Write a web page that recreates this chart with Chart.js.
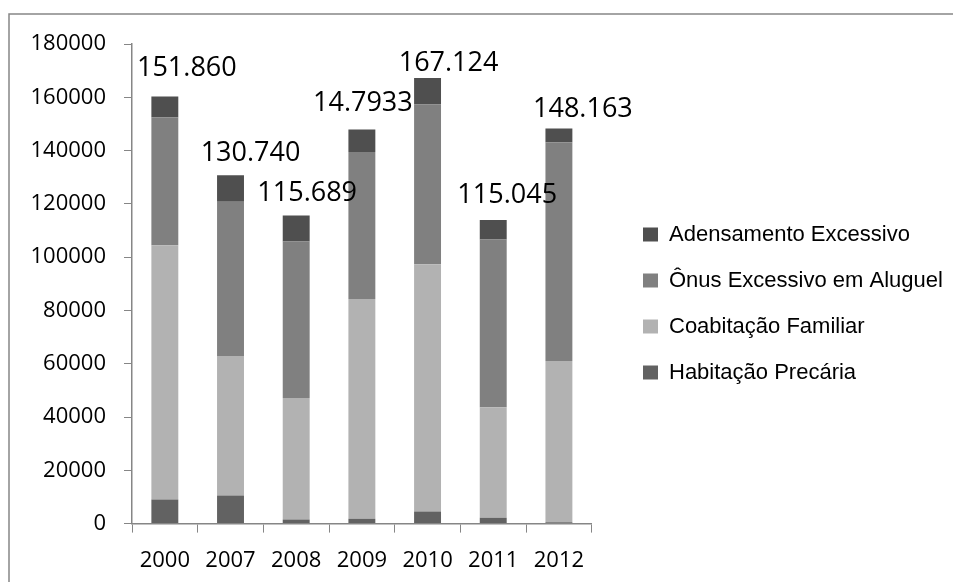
<!DOCTYPE html>
<html>
<head>
<meta charset="utf-8">
<script src="https://cdn.jsdelivr.net/npm/chart.js@4"></script>
<style>
  html, body { margin: 0; padding: 0; background: #fff; }
  #wrap { width: 953px; height: 582px; }
</style>
</head>
<body>
<div id="wrap"><canvas id="chart" width="953" height="582"></canvas></div>
<script>
const years = ['2000', '2007', '2008', '2009', '2010', '2011', '2012'];
const habitacaoPrecaria = [9000, 10500, 1500, 1800, 4500, 2200, 500];
const coabitacaoFamiliar = [95500, 52400, 45600, 82500, 92800, 41500, 60500];
const onusExcessivo = [48000, 57900, 58800, 55200, 60000, 62900, 82100];
const adensamentoExcessivo = [7800, 9900, 9700, 8400, 9900, 7300, 5200];
const totalLabels = ['151.860', '130.740', '115.689', '14.7933', '167.124', '115.045', '148.163'];

// where each hand-placed total label sits relative to the top of its bar
const labelOffsets = [[22, -28], [20, -22], [11, -22], [1, -26], [21, -15], [14, -25], [24, -19]];

const axisGray = '#868686';

const framePlugin = {
  id: 'frame',
  beforeDraw(chart) {
    const ctx = chart.ctx;
    ctx.save();
    ctx.strokeStyle = axisGray;
    ctx.lineWidth = 1.5;
    ctx.beginPath();
    ctx.moveTo(9, chart.height);
    ctx.lineTo(9, 14);
    ctx.lineTo(chart.width, 14);
    ctx.stroke();
    ctx.restore();
  }
};

// the legend box is capped at a quarter of the width, so move it into the free space
const legendShift = {
  id: 'legendShift',
  afterLayout(chart) {
    const legend = chart.legend;
    const dx = 644 - 25 - legend.left;
    legend.left += dx;
    legend.right = chart.width;
    legend.width = legend.right - legend.left;
    legend.top -= 13;
    legend.bottom -= 13;
  }
};

const totalsPlugin = {
  id: 'totals',
  afterDatasetsDraw(chart) {
    const ctx = chart.ctx;
    const top = chart.getDatasetMeta(chart.data.datasets.length - 1);
    ctx.save();
    ctx.font = '27px "Open Sans"';
    ctx.fillStyle = '#000';
    ctx.textAlign = 'center';
    ctx.textBaseline = 'middle';
    top.data.forEach((bar, i) => {
      const [dx, dy] = labelOffsets[i];
      ctx.fillText(totalLabels[i], bar.x + dx, bar.y + dy);
    });
    ctx.restore();
  }
};

new Chart(document.getElementById('chart'), {
  type: 'bar',
  data: {
    labels: years,
    datasets: [
      { label: 'Habitação Precária', data: habitacaoPrecaria, backgroundColor: '#626262' },
      { label: 'Coabitação Familiar', data: coabitacaoFamiliar, backgroundColor: '#b2b2b2' },
      { label: 'Ônus Excessivo em Aluguel', data: onusExcessivo, backgroundColor: '#808080' },
      { label: 'Adensamento Excessivo', data: adensamentoExcessivo, backgroundColor: '#4f4f4f' }
    ]
  },
  options: {
    responsive: false,
    animation: false,
    datasets: {
      bar: { categoryPercentage: 1, barPercentage: 0.41, borderWidth: 0 }
    },
    layout: { padding: { top: 44, right: 164, bottom: -7, left: 0 } },
    scales: {
      x: {
        stacked: true,
        grid: { display: true, drawOnChartArea: false, drawTicks: true, tickLength: 9, color: axisGray, offset: true },
        border: { color: axisGray, width: 1.5 },
        ticks: { color: '#000', font: { family: 'Open Sans', size: 22 }, padding: 15 }
      },
      y: {
        stacked: true,
        min: 0,
        max: 180000,
        afterFit(scale) { scale.width = 132; },
        grid: { display: true, drawOnChartArea: false, drawTicks: true, tickLength: 8, color: axisGray },
        border: { color: axisGray, width: 1.5 },
        ticks: {
          stepSize: 20000,
          color: '#000',
          font: { family: 'Open Sans', size: 22 },
          padding: 18,
          callback: (value) => String(value)
        }
      }
    },
    plugins: {
      tooltip: { enabled: false },
      legend: {
        position: 'right',
        reverse: true,
        labels: {
          boxWidth: 15,
          boxHeight: 14,
          padding: 24,
          color: '#000',
          font: { family: 'Liberation Sans', size: 22 }
        }
      }
    }
  },
  plugins: [framePlugin, legendShift, totalsPlugin]
});
</script>
</body>
</html>
